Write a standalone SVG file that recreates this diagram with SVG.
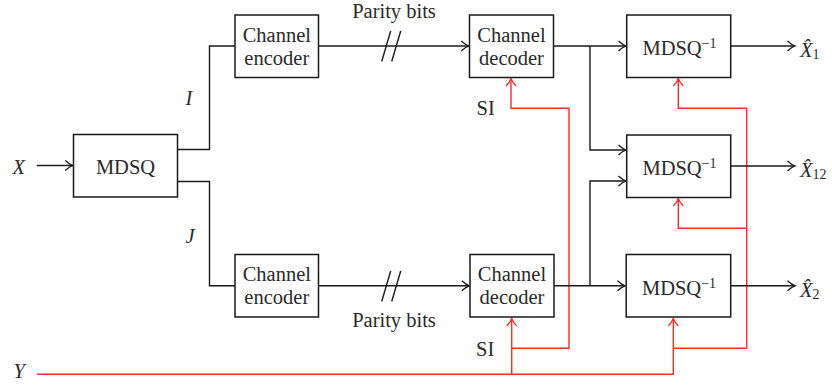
<svg xmlns="http://www.w3.org/2000/svg" width="832" height="385" viewBox="0 0 832 385">
  <style>
    .box { fill: #ffffff; stroke: #1a1a1a; stroke-width: 1.5; }
    .wire { fill: none; stroke: #1a1a1a; stroke-width: 1.4; }
    .si { fill: none; stroke: #ff2a2a; stroke-width: 1.4; }
    .t { font-family: "Liberation Serif", "DejaVu Serif", serif; font-size: 20.5px; fill: #2a2a2a; }
    .c { text-anchor: middle; }
    .it { font-style: italic; }
    .sub { font-size: 14px; font-style: normal; }
  </style>
  <defs>
    <marker id="arrow" markerUnits="userSpaceOnUse" markerWidth="12" markerHeight="12" viewBox="-9 -6 10 12" refX="0" refY="0" orient="auto" overflow="visible">
      <path d="M-7.5,-5 C-4.5,-2.2 -1.8,-0.6 0,0 C-1.8,0.6 -4.5,2.2 -7.5,5" fill="none" stroke="#1a1a1a" stroke-width="1.3"/>
    </marker>
    <marker id="arrow-red" markerUnits="userSpaceOnUse" markerWidth="12" markerHeight="12" viewBox="-9 -6 10 12" refX="0" refY="0" orient="auto" overflow="visible">
      <path d="M-7.5,-5 C-4.5,-2.2 -1.8,-0.6 0,0 C-1.8,0.6 -4.5,2.2 -7.5,5" fill="none" stroke="#ff2a2a" stroke-width="1.3"/>
    </marker>
  </defs>

  <!-- side-information wiring (red), drawn beneath the signal wires -->
  <g id="side-info">
    <path class="si" d="M37,374.3 H673.3 V318.5" marker-end="url(#arrow-red)"/>
    <path class="si" d="M511.7,374.3 V318.5" marker-end="url(#arrow-red)"/>
    <path class="si" d="M511.7,348.3 H569 V108.3 H511 V78.5" marker-end="url(#arrow-red)"/>
    <path class="si" d="M673.3,348.3 H746.7 V108.3 H678.3 V78.5" marker-end="url(#arrow-red)"/>
    <path class="si" d="M746.7,228.3 H678.3 V198.5" marker-end="url(#arrow-red)"/>
  </g>

  <!-- signal connectors -->
  <g id="connectors">
    <path class="wire" d="M36.7,165.5 H72.8" marker-end="url(#arrow)"/>
    <path class="wire" d="M177.5,149.5 H209.5 V46 H235"/>
    <path class="wire" d="M177.5,181.5 H209.5 V285.8 H235"/>
    <path class="wire" d="M318.5,46 H468.8" marker-end="url(#arrow)"/>
    <path class="wire" d="M318.5,285.8 H469.3" marker-end="url(#arrow)"/>
    <!-- channel break marks -->
    <path class="wire" d="M381.7,61.5 L390.7,31 M391.7,61.5 L400.7,31"/>
    <path class="wire" d="M381.7,301.5 L390.7,271 M391.7,301.5 L400.7,271"/>
    <path class="wire" d="M553.5,46 H626" marker-end="url(#arrow)"/>
    <path class="wire" d="M590,46 V150 H626" marker-end="url(#arrow)"/>
    <path class="wire" d="M554,285.8 H625" marker-end="url(#arrow)"/>
    <path class="wire" d="M590,285.8 V181 H626" marker-end="url(#arrow)"/>
    <path class="wire" d="M730.7,46 H795" marker-end="url(#arrow)"/>
    <path class="wire" d="M730.7,166 H795" marker-end="url(#arrow)"/>
    <path class="wire" d="M730.7,285.8 H795" marker-end="url(#arrow)"/>
  </g>

  <g id="mdsq">
    <rect class="box" x="73.5" y="134.5" width="104" height="62.5"/>
    <text class="t c" x="125.5" y="174">MDSQ</text>
  </g>

  <g id="encoder-top">
    <rect class="box" x="235" y="15" width="83.5" height="62.5"/>
    <text class="t c" x="276.8" y="41.5">Channel</text>
    <text class="t c" x="276.8" y="64.5">encoder</text>
  </g>

  <g id="encoder-bottom">
    <rect class="box" x="235" y="254.5" width="83.5" height="62.5"/>
    <text class="t c" x="276.8" y="281.3">Channel</text>
    <text class="t c" x="276.8" y="304.3">encoder</text>
  </g>

  <g id="decoder-top">
    <rect class="box" x="469.5" y="15" width="84" height="62.5"/>
    <text class="t c" x="511.5" y="41.5">Channel</text>
    <text class="t c" x="511.5" y="64.5">decoder</text>
  </g>

  <g id="decoder-bottom">
    <rect class="box" x="470" y="254.5" width="84" height="62.5"/>
    <text class="t c" x="512" y="281.3">Channel</text>
    <text class="t c" x="512" y="304.3">decoder</text>
  </g>

  <g id="inverse-1">
    <rect class="box" x="626.7" y="15" width="104" height="62.5"/>
    <text class="t c" x="679.5" y="55">MDSQ<tspan class="sub" dy="-7">−1</tspan></text>
  </g>

  <g id="inverse-12">
    <rect class="box" x="626.7" y="135" width="104" height="62.5"/>
    <text class="t c" x="679.5" y="175">MDSQ<tspan class="sub" dy="-7">−1</tspan></text>
  </g>

  <g id="inverse-2">
    <rect class="box" x="626.2" y="254.5" width="104.5" height="62.5"/>
    <text class="t c" x="679" y="295">MDSQ<tspan class="sub" dy="-7">−1</tspan></text>
  </g>

  <!-- signal and channel labels -->
  <g id="labels">
    <text class="t it" x="12.5" y="173.5">X</text>
    <text class="t it" x="13.5" y="378">Y</text>
    <text class="t it" x="185.5" y="105">I</text>
    <text class="t it" x="185.5" y="243">J</text>
    <text class="t c" x="394" y="18">Parity bits</text>
    <text class="t c" x="394" y="327">Parity bits</text>
    <text class="t" x="476.5" y="115">SI</text>
    <text class="t" x="476" y="356">SI</text>
    <text class="t it" x="800" y="57">X&#x302;<tspan class="sub" dy="2">1</tspan></text>
    <text class="t it" x="800" y="177">X&#x302;<tspan class="sub" dy="2">12</tspan></text>
    <text class="t it" x="800" y="297">X&#x302;<tspan class="sub" dy="2">2</tspan></text>
  </g>
</svg>
